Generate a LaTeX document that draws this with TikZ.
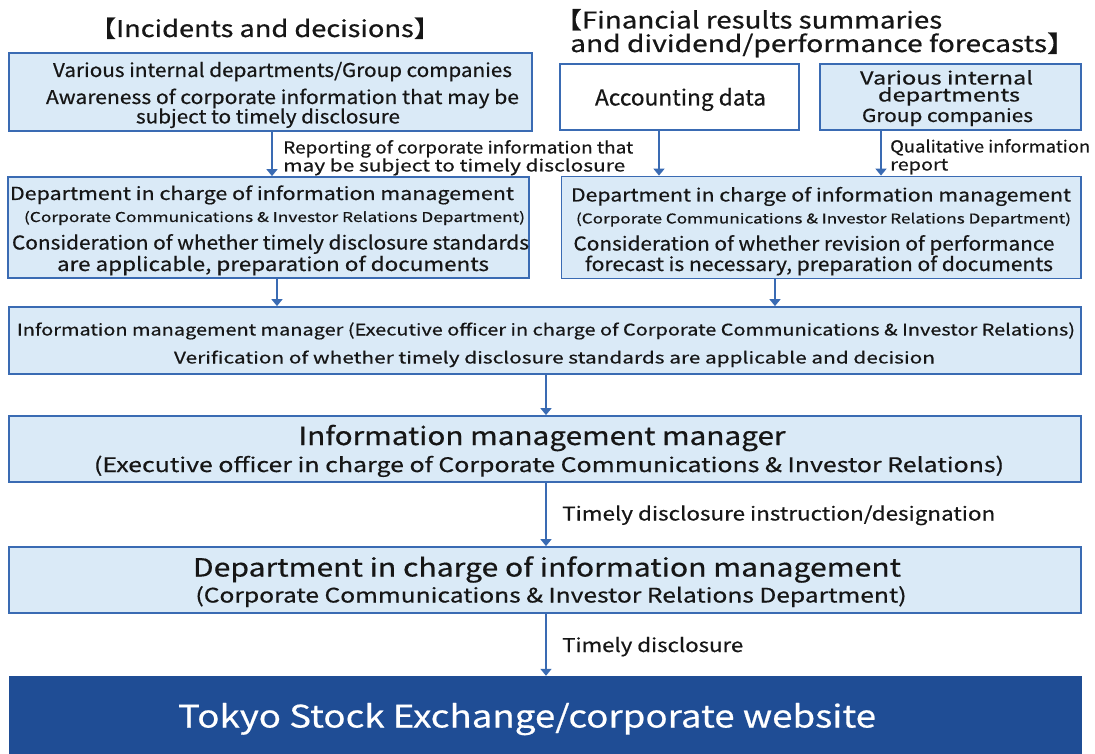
\documentclass[tikz,border=0pt]{standalone}
\usepackage{fontspec}
\usepackage{graphicx}
\setmainfont{Noto Sans CJK JP}[FakeBold=0.5]
\usetikzlibrary{arrows.meta}
\definecolor{lb}{HTML}{DAEAF7}
\definecolor{bd}{HTML}{3A6BB3}
\definecolor{dk}{HTML}{1F4D95}
\definecolor{tx}{HTML}{161616}
% centred text line: name, x, baseline y, size, width, text
\newcommand{\ctxt}[6]{\node[txt, anchor=base] (#1) at (#2,#3) {\fontsize{#4}{#4}\selectfont\resizebox{#5pt}{\height}{#6}};}
% left-aligned text line
\newcommand{\ltxt}[6]{\node[txt, anchor=base west] (#1) at (#2,#3) {\fontsize{#4}{#4}\selectfont\resizebox{#5pt}{\height}{#6}};}
\begin{document}
\begin{tikzpicture}[x=1pt,y=-1pt,
  box/.style={draw=bd, line width=1.8pt, fill=lb, inner sep=0pt},
  wbox/.style={box, fill=white},
  dbox/.style={draw=none, fill=dk, inner sep=0pt},
  arr/.style={draw=bd, line width=1.6pt, -{Triangle[width=11pt,length=7pt]}},
  txt/.style={inner sep=0pt, text=tx}]
\useasboundingbox (0,0) rectangle (1095,754);
\fill[white] (0,0) rectangle (1095,754);

% boxes
\node[box,  minimum width=523pt,  minimum height=78pt]  (a) at (270.5,92) {};
\node[wbox, minimum width=239pt,  minimum height=66pt]  (b) at (679.5,97) {};
\node[box,  minimum width=261pt,  minimum height=66pt]  (c) at (950.5,97) {};
\node[box,  minimum width=521pt,  minimum height=101pt] (d) at (268.5,227.5) {};
\node[box,  minimum width=519.5pt,minimum height=102pt] (e) at (821.25,227.5) {};
\node[box,  minimum width=1072pt, minimum height=67pt]  (f) at (545,340.5) {};
\node[box,  minimum width=1072pt, minimum height=66pt]  (g) at (545,449) {};
\node[box,  minimum width=1072pt, minimum height=66pt]  (h) at (545,580) {};
\node[dbox, minimum width=1073pt, minimum height=78pt]  (i) at (545,715) {};

% connectors
\draw[arr] (a.south -| 272,0) -- (d.north -| 272,0);
\draw[arr] (b.south -| 659,0) -- (e.north -| 659,0);
\draw[arr] (c.south -| 881,0) -- (e.north -| 881,0);
\draw[arr] (d.south -| 277,0) -- (f.north -| 277,0);
\draw[arr] (e.south -| 775,0) -- (f.north -| 775,0);
\draw[arr] (f.south -| 546,0) -- (g.north -| 546,0);
\draw[arr] (g.south -| 546,0) -- (h.north -| 546,0);
\draw[arr] (h.south -| 546,0) -- (i.north -| 546,0);

% titles
\ctxt{t1}{265}{37}{23}{352}{【Incidents and decisions】}
\ltxt{t2a}{554}{28.5}{23}{388}{【Financial results summaries}
\ltxt{t2b}{570}{52}{23}{505}{and dividend/performance forecasts】}

% box A
\ctxt{a1}{282.5}{77}{19}{459}{Various internal departments/Group companies}
\ctxt{a2}{282.5}{104}{19}{473}{Awareness of corporate information that may be}
\ctxt{a3}{268}{123.5}{19}{264}{subject to timely disclosure}
% box B
\ctxt{b1}{680.5}{105.5}{22}{171}{Accounting data}
% box C
\ctxt{c1}{946.5}{84.5}{18}{173}{Various internal}
\ctxt{c2}{949}{101.5}{18}{142}{departments}
\ctxt{c3}{947.5}{122}{18}{171}{Group companies}
% arrow labels
\ltxt{l1a}{283}{153.5}{16.5}{350}{Reporting of corporate information that}
\ltxt{l1b}{283}{171.5}{16.5}{342}{may be subject to timely disclosure}
\ltxt{l2a}{890}{152.5}{16.5}{200}{Qualitative information}
\ltxt{l2b}{890}{170.5}{16.5}{58}{report}
% box D
\ctxt{d1}{262}{200}{18}{504}{Department in charge of information management}
\ctxt{d2}{274.5}{222}{13.5}{501}{(Corporate Communications \& Investor Relations Department)}
\ctxt{d3}{270.5}{249.5}{19}{517}{Consideration of whether timely disclosure standards}
\ctxt{d4}{273}{271}{19}{432}{are applicable, preparation of documents}
% box E
\ctxt{e1}{821}{201.5}{18}{500}{Department in charge of information management}
\ctxt{e2}{823.5}{223.5}{13.5}{495}{(Corporate Communications \& Investor Relations Department)}
\ctxt{e3}{814}{250.5}{19}{481}{Consideration of whether revision of performance}
\ctxt{e4}{819}{271}{19}{468}{forecast is necessary, preparation of documents}
% box F
\ctxt{f1}{546}{335.5}{16}{1058}{Information management manager (Executive officer in charge of Corporate Communications \& Investor Relations)}
\ctxt{f2}{554.5}{363.5}{16}{761}{Verification of whether timely disclosure standards are applicable and decision}
% box G
\ctxt{g1}{542}{445}{25}{487}{Information management manager}
\ctxt{g2}{549}{472}{20}{910}{(Executive officer in charge of Corporate Communications \& Investor Relations)}
% label
\ltxt{l3}{562}{520.5}{19}{433}{Timely disclosure instruction/designation}
% box H
\ctxt{h1}{547}{576.5}{25}{708}{Department in charge of information management}
\ctxt{h2}{551}{602.5}{20}{711}{(Corporate Communications \& Investor Relations Department)}
% label
\ltxt{l4}{562}{652}{19}{181}{Timely disclosure}
% box I
\node[inner sep=0pt, anchor=base, text=white] (i1) at (527,727.5)
  {\fontsize{31}{31}\selectfont\resizebox{698pt}{\height}{Tokyo Stock Exchange/corporate website}};
\end{tikzpicture}
\end{document}
